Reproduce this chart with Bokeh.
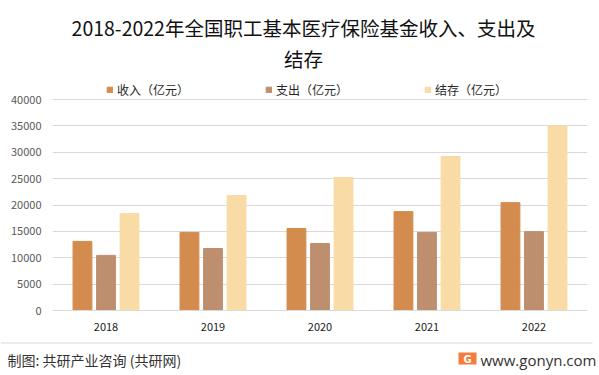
from bokeh.plotting import figure
from bokeh.layouts import column, row
from bokeh.models import Range1d, FixedTicker, Legend, LegendItem, ColumnDataSource
from bokeh.core.properties import value
from bokeh.transform import dodge
from bokeh.embed import file_html
from bokeh.resources import INLINE

years = ["2018", "2019", "2020", "2021", "2022"]
income = [13100, 14800, 15550, 18750, 20450]
expense = [10450, 11750, 12700, 14800, 14950]
balance = [18400, 21800, 25200, 29200, 35000]
y_ticks = [0, 5000, 10000, 15000, 20000, 25000, 30000, 35000, 40000]
series_names = ["收入（亿元）", "支出（亿元）", "结存（亿元）"]
colors = ["#D38C4E", "#BD8F6E", "#F9DBA6"]
title_lines = ["2018-2022年全国职工基本医疗保险基金收入、支出及", "结存"]
footer_left = "制图: 共研产业咨询 (共研网)"
footer_right = "www.gonyn.com"

CJK = "Noto Sans CJK SC"
W = 599
HM, HF = 335, 40
BL, BR, BT, BB = 52, 12, 8, 25
Y_MAX = 40000
FRAME_W = W - BL - BR            # 535
FRAME_H = HM - BT - BB           # 302
PX_PER_UNIT_Y = 211 / Y_MAX      # 40000 spans 211 px
y_end = FRAME_H / PX_PER_UNIT_Y  # headroom above 40000 holds title + legend


def DX(px):   # page pixel -> x data (text placement only)
    return (px - BL) / FRAME_W * len(years)


def DY(py):   # page pixel -> y data (text placement only)
    return (HM - BB - py) / PX_PER_UNIT_Y


# ---------- main chart ----------
xs = [i + 0.5 for i in range(len(years))]
src = ColumnDataSource(dict(x=xs, income=income, expense=expense, balance=balance))

p = figure(width=W, height=HM, output_backend="svg", toolbar_location=None,
           x_range=Range1d(0, len(years)), y_range=Range1d(0, y_end),
           min_border_left=BL, min_border_right=BR, min_border_top=BT,
           min_border_bottom=BB, outline_line_color=None,
           background_fill_color="white", border_fill_color="white")

bw = 0.176
r1 = p.vbar(x=dodge("x", -0.22, range=p.x_range), top="income", width=bw,
            source=src, fill_color=colors[0], line_color=colors[0])
r2 = p.vbar(x=dodge("x", 0.0, range=p.x_range), top="expense", width=bw,
            source=src, fill_color=colors[1], line_color=colors[1])
r3 = p.vbar(x=dodge("x", 0.22, range=p.x_range), top="balance", width=bw,
            source=src, fill_color=colors[2], line_color=colors[2])

p.xaxis.ticker = FixedTicker(ticks=xs)
p.xaxis.major_label_overrides = {x: y for x, y in zip(xs, years)}
p.xaxis.axis_line_color = "#D9D9D9"
p.xaxis.major_tick_line_color = None
p.xaxis.minor_tick_line_color = None
p.xaxis.major_tick_out = 0
p.xaxis.major_tick_in = 0
p.xaxis.major_label_text_font = CJK
p.xaxis.major_label_text_font_size = "11px"
p.xaxis.major_label_text_color = "#1a1a1a"
p.xaxis.major_label_standoff = 12

p.yaxis.ticker = FixedTicker(ticks=y_ticks)
p.yaxis.axis_line_color = None
p.yaxis.major_tick_line_color = None
p.yaxis.minor_tick_line_color = None
p.yaxis.major_tick_out = 0
p.yaxis.major_tick_in = 0
p.yaxis.major_label_text_font = CJK
p.yaxis.major_label_text_font_size = "11px"
p.yaxis.major_label_text_color = "#595959"
p.yaxis.major_label_standoff = 11

p.xgrid.grid_line_color = None
p.ygrid.grid_line_color = "#D9D9D9"

# title (inside the frame headroom)
p.text(x=[DX(303), DX(303)], y=[DY(27), DY(57.5)], text=title_lines,
       text_align="center", text_baseline="middle",
       text_font=value(CJK), text_font_size="19.5px", text_color="#111111")

# legend (inside the frame headroom)
legend = Legend(items=[LegendItem(label=n, renderers=[r])
                       for n, r in zip(series_names, [r1, r2, r3])],
                orientation="horizontal", location=(106 - BL, HM - BB - 98),
                glyph_width=7, glyph_height=7, label_height=7, label_width=10,
                label_standoff=4, spacing=76,
                padding=0, margin=0, border_line_color=None,
                background_fill_alpha=0, label_text_font=CJK,
                label_text_font_size="12px", label_text_color="#262626")
p.add_layout(legend)

# ---------- footer ----------
foot = figure(width=W, height=HF, output_backend="svg", toolbar_location=None,
              x_range=Range1d(0, W), y_range=Range1d(HF, 0),
              x_axis_location=None, y_axis_location=None,
              min_border=0, outline_line_color=None,
              background_fill_color="white", border_fill_color="white")
foot.grid.visible = False
foot.line(x=[0, 592], y=[7.5, 7.5], line_color="#D9D9D9", line_width=1)
foot.text(x=[7], y=[24], text=[footer_left], text_align="left",
          text_baseline="middle", text_font=value(CJK), text_font_size="14px",
          text_color="#333333")
foot.rect(x=[467], y=[23], width=18, height=12, fill_color="#F47C3C", line_color=None)
foot.text(x=[467], y=[23.5], text=["G"], text_align="center", text_baseline="middle",
          text_font=value("DejaVu Sans"), text_font_size="10px",
          text_font_style="bold", text_color="white")
foot.text(x=[480], y=[24], text=[footer_right], text_align="left",
          text_baseline="middle", text_font=value("Open Sans"),
          text_font_size="15px", text_color="#333333")

layout = column(row(p), row(foot), spacing=0)
open("out.html", "w").write(file_html(layout, INLINE))
